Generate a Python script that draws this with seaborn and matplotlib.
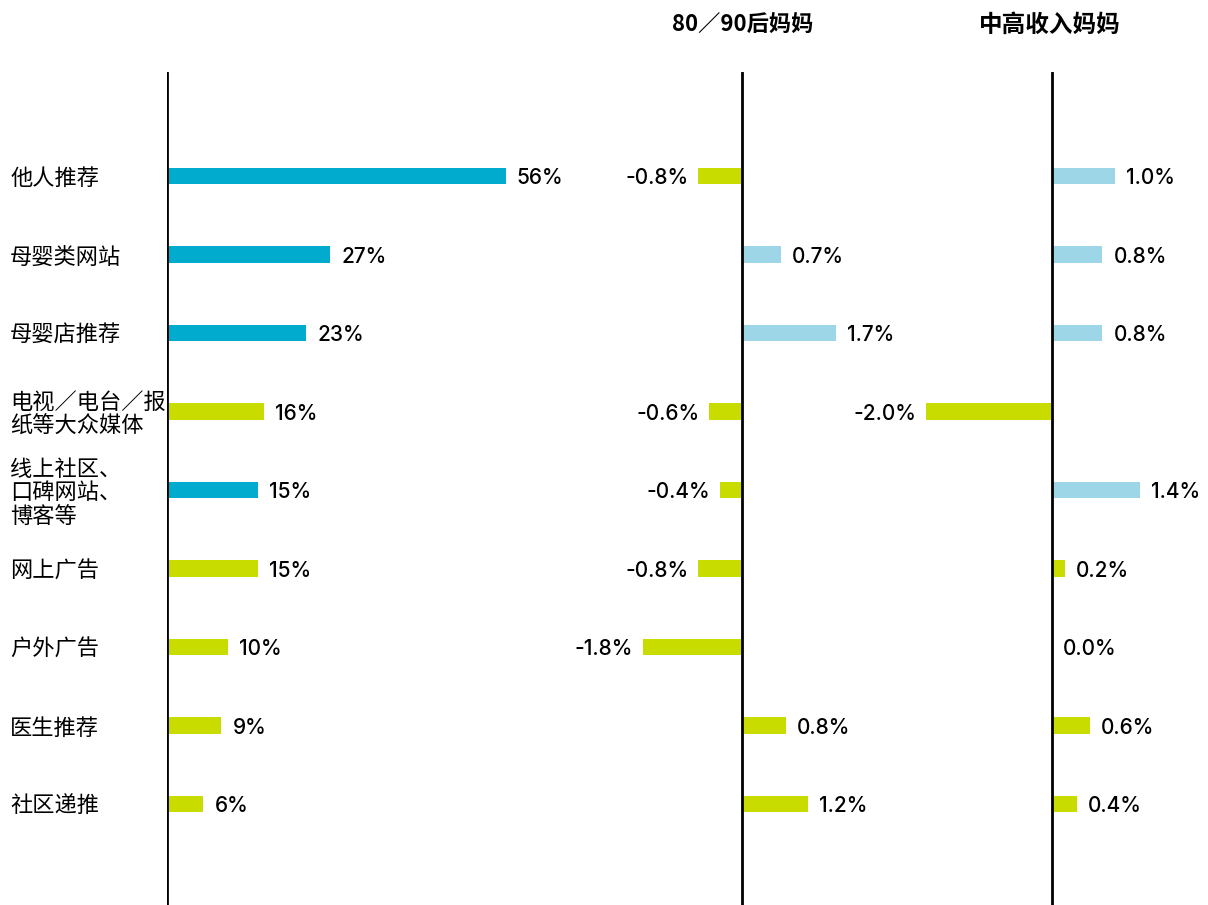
import pandas as pd
import numpy as np
import matplotlib
matplotlib.use("Agg")
import matplotlib.pyplot as plt
import seaborn as sns

sns.set_style("white")
plt.rcParams['font.family'] = ['Noto Sans CJK SC', 'DejaVu Sans']

# data
categories = ["他人推荐", "母婴类网站", "母婴店推荐", "电视／电台／报\n纸等大众媒体",
              "线上社区、\n口碑网站、\n博客等", "网上广告", "户外广告", "医生推荐", "社区递推"]
share = [56, 27, 23, 16, 15, 15, 10, 9, 6]
diff_8090 = [-0.8, 0.7, 1.7, -0.6, -0.4, -0.8, -1.8, 0.8, 1.2]
diff_income = [1.0, 0.8, 0.8, -2.0, 1.4, 0.2, 0.0, 0.6, 0.4]
highlight = [True, True, True, False, True, False, False, False, False]
panel_titles = ["80／90后妈妈", "中高收入妈妈"]

TEAL = "#00abce"
LIME = "#c9dc00"
LIGHT = "#9dd6e6"
INK = "#000000"
NUM_FONT = ['Inter', 'Noto Sans CJK SC']

fig = plt.figure(figsize=(12.08, 9.05), dpi=100)
W, H = 1208, 905
top = (H - 72) / H

def make_ax(x0, x1):
    return fig.add_axes([x0 / W, 0, (x1 - x0) / W, top])

ax_main = make_ax(167, 600)
ax_mid = make_ax(560, 900)
ax_right = make_ax(900, 1208)

def draw(ax, vals, colors, xlim, fmt):
    df = pd.DataFrame({"cat": categories, "val": vals})
    sns.barplot(data=df, x="val", y="cat", hue="cat", palette=dict(zip(categories, colors)),
                width=0.21, linewidth=0, saturation=1, legend=False, orient="h", ax=ax)
    ax.set_xlim(*xlim)
    ax.set_ylim(9.287, -1.325)
    ax.axvline(0, color=INK, lw=2, zorder=5)
    for s in ax.spines.values():
        s.set_visible(False)
    ax.set_xticks([])
    ax.set_xlabel("")
    ax.set_ylabel("")
    ax.patch.set_alpha(0)
    for i, v in enumerate(vals):
        off = 8 if v >= 0 else -7
        ax.annotate(fmt.format(v), xy=(v, i), xytext=(off, -1.5), textcoords="offset points",
                    ha="left" if v >= 0 else "right", va="center",
                    fontsize=15, fontweight="medium", color=INK, family=NUM_FONT)

# left panel
main_colors = [TEAL if h else LIME for h in highlight]
draw(ax_main, share, main_colors, (0, 433 / 6.05), "{:.0f}%")
ax_main.tick_params(axis="y", length=0, pad=113)
for lbl in ax_main.get_yticklabels():
    lbl.set_ha("left")
    lbl.set_fontsize(16)
    lbl.set_fontweight("medium")
    lbl.set_color(INK)
    lbl.set_linespacing(1.05)

# difference panels
def diff_colors(vals):
    return [LIGHT if (v > 0 and h) else LIME for v, h in zip(vals, highlight)]

draw(ax_mid, diff_8090, diff_colors(diff_8090), (-182 / 55, 158 / 55), "{:.1f}%")
draw(ax_right, diff_income, diff_colors(diff_income), (-152 / 63, 156 / 63), "{:.1f}%")
for ax in (ax_mid, ax_right):
    ax.set_yticks([])

fig.text(743 / W, 1 - 25 / H, panel_titles[0], ha="center", va="center",
         fontsize=16, fontweight="bold", color=INK)
fig.text(1050 / W, 1 - 25 / H, panel_titles[1], ha="center", va="center",
         fontsize=17, fontweight="bold", color=INK)

fig.savefig("out.png", dpi=100, facecolor="white")
